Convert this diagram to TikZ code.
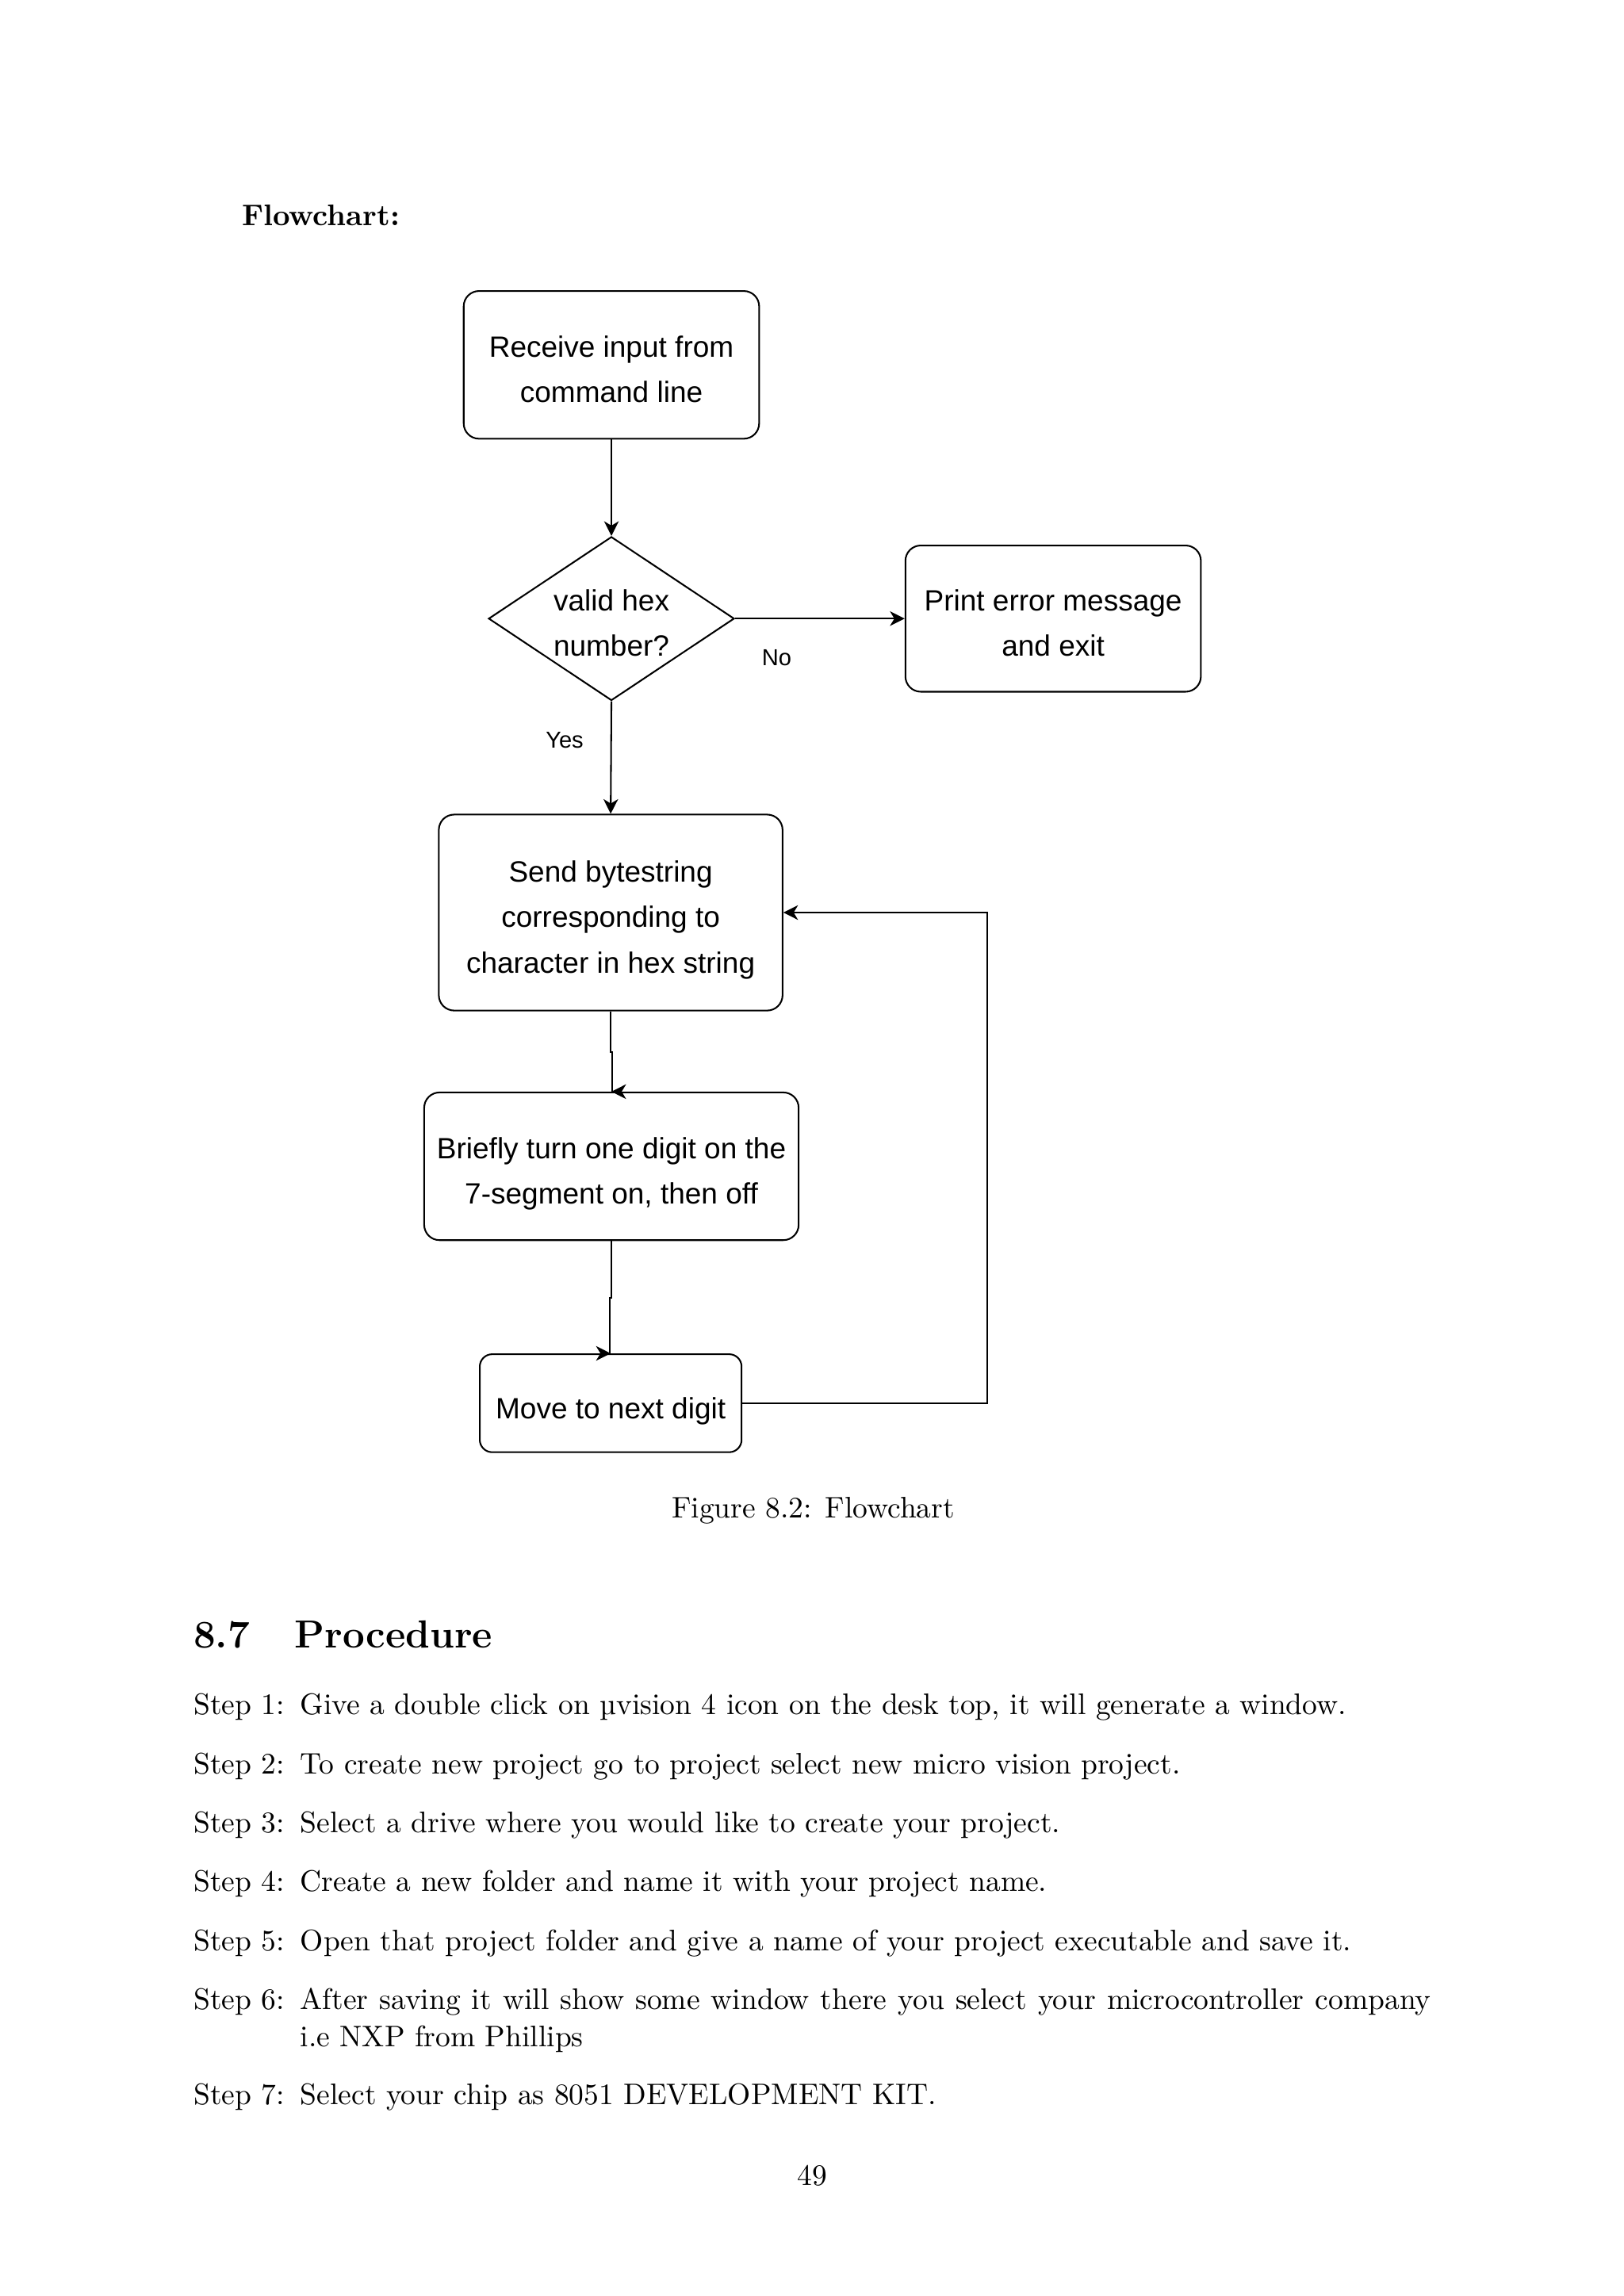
\documentclass[tikz,border=0pt]{standalone}
\usepackage{fontspec}
\newfontfamily\arialfam{Liberation Sans}
\usetikzlibrary{shapes.geometric,arrows.meta}
\def\pxu{0.18919mm}
\tikzset{
  flowtext/.style={font={\fontsize{10.8}{16.8}\selectfont\arialfam}, align=center, inner sep=0pt},
  procbox/.style={draw, line width=0.6pt, rounded corners=10.5*\pxu, rectangle, inner sep=0pt},
  decbox/.style={draw, line width=0.6pt, diamond, inner sep=0pt},
  conn/.style={line width=0.6pt, -{Stealth[length=10*\pxu, width=10*\pxu, inset=3*\pxu]}},
  lbl/.style={font={\fontsize{8.5}{10}\selectfont\arialfam}, inner sep=0pt},
  body/.style={font={\fontsize{10.95}{13.6}\selectfont}, inner sep=0pt, anchor=base west},
}
\begin{document}
\begin{tikzpicture}[x=\pxu, y=-\pxu]
\useasboundingbox (0,0) rectangle (1110,1570);
\fill[white] (0,0) rectangle (1110,1570);
\begin{scope}[shift={(1,1)}]

\node[body, font={\fontsize{10.95}{13.6}\selectfont\bfseries}] (title) at (164,153) {Flowchart:};

% flowchart shapes
\node[procbox, minimum width=202*\pxu, minimum height=101*\pxu] (recv) at (417,248.5) {};
\node[decbox, minimum width=168*\pxu, minimum height=112*\pxu] (valid) at (417,422) {};
\node[procbox, minimum width=202*\pxu, minimum height=100*\pxu] (err) at (719,422) {};
\node[procbox, minimum width=235*\pxu, minimum height=134*\pxu] (send) at (416.5,623) {};
\node[procbox, minimum width=256*\pxu, minimum height=101*\pxu] (blink) at (417,796.5) {};
\node[procbox, rounded corners=8.5*\pxu, minimum width=179*\pxu, minimum height=67*\pxu] (next) at (416.5,958.5) {};

% texts in the shapes
\node[flowtext, yshift=-3*\pxu] (recvT) at (recv.center) {Receive input from\\command line};
\node[flowtext, yshift=-3*\pxu] (validT) at (valid.center) {valid hex\\number?};
\node[flowtext, yshift=-3*\pxu] (errT) at (err.center) {Print error message\\and exit};
\node[flowtext, yshift=-5*\pxu] (sendT) at (send.center) {Send bytestring\\corresponding to\\character in hex string};
\node[flowtext, yshift=-5*\pxu] (blinkT) at (blink.center) {Briefly turn one digit on the\\7-segment on, then off};
\node[flowtext, yshift=-5.5*\pxu] (nextT) at (next.center) {Move to next digit};

\coordinate (loopA) at (674,958.5);
\coordinate (loopB) at (674,623);

% connectors
\draw[conn] (recv.south) -- (valid.north);
\draw[conn] (valid.east) -- (err.west);
\draw[conn] (valid.south) -- (send.north);
\draw[conn] (send.south) -- ++(0,28) -- ++(1,0) |- (blink.north);
\draw[conn] (blink.south) -- ++(0,39) -- ++(-1,0) |- (next.north);
\draw[conn] (next.east) -- (loopA) -- (loopB) -- (send.east);

\node[lbl] (no) at (530,449) {No};
\node[lbl] (yes) at (385,505) {Yes};

\node[body, anchor=base] (cap) at (555,1037) {Figure 8.2: Flowchart};

% section
\node[body, font={\fontsize{14.4}{18}\selectfont\bfseries}] (secnum) at (131,1126) {8.7};
\node[body, font={\fontsize{14.4}{18}\selectfont\bfseries}] (sectitle) at (200,1126) {Procedure};

% steps
\node[body] (s1l) at (131,1171.5) {Step 1:};
\node[body] (s1) at (204,1171.5) {Give a double click on µvision 4 icon on the desk top, it will generate a window.};
\node[body] (s2l) at (131,1211.8) {Step 2:};
\node[body] (s2) at (204,1211.8) {To create new project go to project select new micro vision project.};
\node[body] (s3l) at (131,1252.1) {Step 3:};
\node[body] (s3) at (204,1252.1) {Select a drive where you would like to create your project.};
\node[body] (s4l) at (131,1292.4) {Step 4:};
\node[body] (s4) at (204,1292.4) {Create a new folder and name it with your project name.};
\node[body] (s5l) at (131,1332.7) {Step 5:};
\node[body] (s5) at (204,1332.7) {Open that project folder and give a name of your project executable and save it.};
\node[body] (s6l) at (131,1373) {Step 6:};
\node[body, text width=773*\pxu, align=justify] (s6) at (204,1373) {After saving it will show some window there you select your microcontroller company\linebreak i.e NXP from Phillips};
\node[body] (s7l) at (131,1438) {Step 7:};
\node[body] (s7) at (204,1438) {Select your chip as 8051 DEVELOPMENT KIT.};

\node[body, anchor=base] (page) at (554.5,1493.5) {49};
\end{scope}
\end{tikzpicture}
\end{document}
